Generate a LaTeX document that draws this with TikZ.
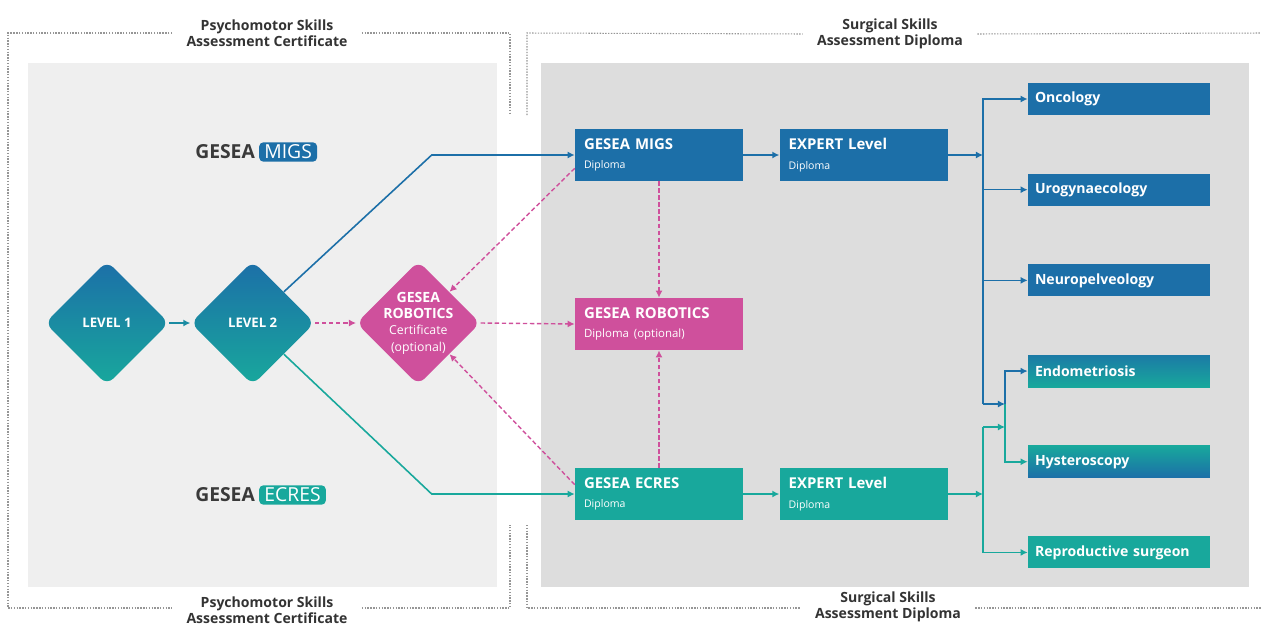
\documentclass[tikz,border=0pt]{standalone}
\usepackage{fontspec}
\setmainfont{Open Sans}
\usepackage{tikz}
\usetikzlibrary{positioning, shapes.geometric, arrows.meta}

\definecolor{migsblue}{RGB}{28,111,168}
\definecolor{ecresteal}{RGB}{24,168,156}
\definecolor{robmagenta}{RGB}{207,80,156}
\definecolor{panellight}{RGB}{239,239,239}
\definecolor{paneldark}{RGB}{221,221,221}
\definecolor{framegray}{RGB}{150,150,150}
\definecolor{logogray}{RGB}{58,58,58}

\begin{document}
\begin{tikzpicture}[
    x=0.02cm, y=-0.02cm,
    >={Latex[length=4pt,width=4pt]},
    frame/.style={draw=framegray, line width=0.6pt, dash pattern=on 0.8pt off 0.8pt},
    header/.style={font=\fontsize{8}{9}\selectfont\bfseries, text=black!80, align=center, inner xsep=8pt},
    diam/.style={diamond, minimum width=2.48cm, minimum height=2.48cm, inner sep=0pt, rounded corners=5pt, text=white, font=\fontsize{7.5}{9}\selectfont\bfseries, align=center},
    box/.style={rectangle, minimum width=3.36cm, minimum height=1.04cm, text width=3.0cm, inner xsep=0.18cm, align=left, text=white, font=\fontsize{8.5}{11}\selectfont},
    track/.style={rectangle, minimum width=3.64cm, minimum height=0.64cm, text width=3.36cm, inner xsep=0.14cm, align=left, text=white, font=\fontsize{8}{9}\selectfont\bfseries},
    mline/.style={color=migsblue, line width=0.9pt},
    eline/.style={color=ecresteal, line width=0.9pt},
    rline/.style={color=robmagenta, line width=0.8pt, dash pattern=on 2.5pt off 1.5pt},
    logotag/.style={rectangle, rounded corners=2.5pt, fill=#1, text=white, font=\fontsize{11}{12}\selectfont, inner xsep=3pt, inner ysep=1.5pt}
]
    \useasboundingbox (0,0) rectangle (1261,626);

    % Panels
    \fill[panellight] (28,63) rectangle (497,587);
    \fill[paneldark] (541,63) rectangle (1249,587);

    % Headers and dotted frames
    \node[header] (psyTop) at (267,33) {Psychomotor Skills\\Assessment Certificate};
    \node[header] (surgTop) at (890,34) {Surgical Skills\\Assessment Diploma};
    \node[header] (psyBot) at (267,610) {Psychomotor Skills\\Assessment Certificate};
    \node[header] (surgBot) at (888,607) {Surgical Skills\\Assessment Diploma};
    \coordinate (lt) at (8,33);
    \coordinate (lb) at (8,608);
    \draw[frame] (psyTop.west) -- (lt) -- (lb) -- (psyBot.west |- lb);
    \draw[frame] (psyTop.east) -- (510,33) -- (510,115);
    \draw[frame] (psyBot.east |- lb) -- (510,608) -- (510,525);
    \draw[frame] (527,115) -- (527,33) -- (surgTop.west);
    \draw[frame] (surgTop.east) -- (1261,33);
    \draw[frame] (527,525) -- (527,608) -- (surgBot.west |- lb);
    \draw[frame] (surgBot.east |- lb) -- (1261,608);

    % Logos
    \node[font=\fontsize{11}{12}\selectfont\bfseries, text=logogray, anchor=east, inner sep=1pt] (logoM) at (257,152) {GESEA};
    \node[logotag=migsblue, right=1pt of logoM] (tagM) {MIGS};
    \node[font=\fontsize{11}{12}\selectfont\bfseries, text=logogray, anchor=east, inner sep=1pt] (logoE) at (257,495) {GESEA};
    \node[logotag=ecresteal, right=1pt of logoE] (tagE) {ECRES};

    % Levels
    \node[diam, top color=migsblue, bottom color=ecresteal] (lvl1) at (107,323) {LEVEL 1};
    \node[diam, top color=migsblue, bottom color=ecresteal, right=0.42cm of lvl1] (lvl2) {LEVEL 2};
    \node[diam, fill=robmagenta, right=0.82cm of lvl2,
        label={[text=white, align=center, font=\fontsize{8}{9.3}\selectfont]center:{\textbf{GESEA}\\\textbf{ROBOTICS}\\{\fontsize{7}{8.5}\selectfont Certificate}\\{\fontsize{7}{8.5}\selectfont(optional)}}}] (robcert) {};

    % Diplomas
    \node[box, fill=migsblue] (migs) at (659,155) {\textbf{GESEA MIGS}\\{\fontsize{6}{7}\selectfont Diploma}};
    \node[box, fill=migsblue, right=0.72cm of migs] (expm) {\textbf{EXPERT Level}\\{\fontsize{6}{7}\selectfont Diploma}};
    \node[box, fill=robmagenta] (robdip) at (659,324) {\textbf{GESEA ROBOTICS}\\{\fontsize{6.5}{7}\selectfont Diploma (optional)}};
    \node[box, fill=ecresteal] (ecres) at (659,494) {\textbf{GESEA ECRES}\\{\fontsize{6}{7}\selectfont Diploma}};
    \node[box, fill=ecresteal, right=0.72cm of ecres] (expe) {\textbf{EXPERT Level}\\{\fontsize{6}{7}\selectfont Diploma}};

    % Subspecialties
    \node[track, fill=migsblue] (onc) at (1119,99) {Oncology};
    \node[track, fill=migsblue, below=1.16cm of onc] (uro) {Urogynaecology};
    \node[track, fill=migsblue, below=1.16cm of uro] (neuro) {Neuropelveology};
    \node[track, top color=migsblue!80!ecresteal, bottom color=ecresteal, below=1.16cm of neuro] (endo) {Endometriosis};
    \node[track, top color=ecresteal, bottom color=migsblue, below=1.16cm of endo] (hyst) {Hysteroscopy};
    \node[track, fill=ecresteal, below=1.16cm of hyst] (repro) {Reproductive surgeon};

    % Junctions
    \coordinate (mb) at (983,404);
    \coordinate (et) at (983,427);
    \coordinate (sj) at (1005,404);

    % Transitions
    \draw[->, line width=0.9pt, migsblue!50!ecresteal] (lvl1.east) -- (lvl2.west);
    \draw[mline, ->] (lvl2.north east) -- ([xshift=-2.86cm]migs.west) -- (migs.west);
    \draw[eline, ->] (lvl2.south east) -- ([xshift=-2.86cm]ecres.west) -- (ecres.west);
    \path[rline, ->]
        (lvl2.east) edge (robcert.west)
        (robcert.east) edge (robdip.west)
        (migs.south) edge (robdip.north)
        (ecres.north) edge (robdip.south)
        ([yshift=0.26cm]migs.south west) edge (robcert.north east)
        ([yshift=-0.34cm]ecres.north west) edge (robcert.south east);
    \path[mline, ->]
        (migs.east) edge (expm.west)
        (expm.east) edge (expm.east -| mb)
        (uro.west -| mb) edge (uro.west)
        (neuro.west -| mb) edge (neuro.west)
        (mb) edge (sj);
    \draw[mline, ->] (mb) |- (onc.west);
    \draw[mline, ->] (sj) |- (endo.west);
    \path[eline, ->]
        (ecres.east) edge (expe.west)
        (expe.east) edge (expe.east -| et)
        (et) edge (et -| sj);
    \draw[eline, ->] (et) |- (repro.west);
    \draw[eline, ->] (sj) |- (hyst.west);
\end{tikzpicture}
\end{document}
